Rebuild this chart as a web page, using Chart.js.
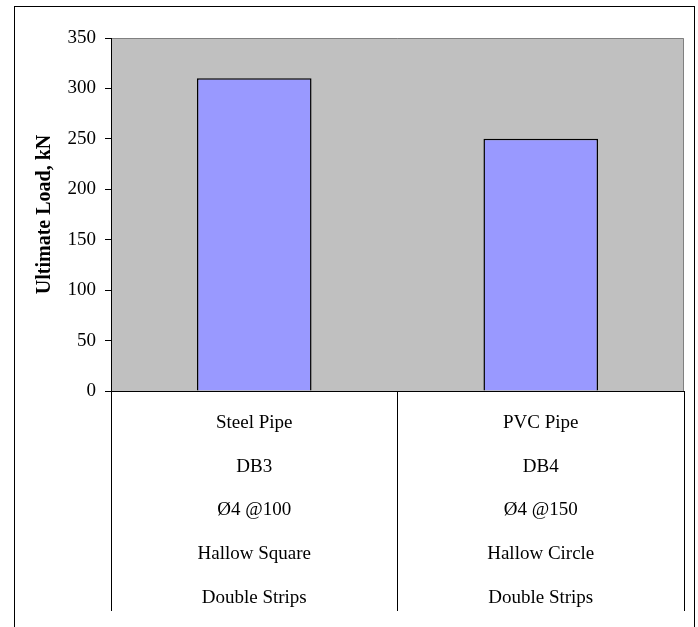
<!DOCTYPE html>
<html>
<head>
<meta charset="utf-8">
<script src="https://cdn.jsdelivr.net/npm/chart.js@4/dist/chart.umd.min.js"></script>
<style>
  html, body { margin: 0; padding: 0; background: #fff; }
  body { width: 698px; height: 627px; overflow: hidden; position: relative; }
  #frame { position: absolute; left: 14px; top: 6px; width: 679px; height: 660px; border: 1px solid #000; }
  #wrap { position: absolute; left: 0; top: 0; width: 698px; height: 627px; }
</style>
</head>
<body>
<div id="frame"></div>
<div id="wrap"><canvas id="chart" width="698" height="627"></canvas></div>
<script>
// Specimen descriptions, one line per row of the category table
const categories = [
  ["Steel Pipe", "DB3", "Ø4 @100", "Hallow Square", "Double Strips"],
  ["PVC Pipe", "DB4", "Ø4 @150", "Hallow Circle", "Double Strips"]
];
// Ultimate load of each beam, kN
const ultimateLoad = [310, 250];
// Value axis range
const yMin = 0;
const yMax = 350;
const yStep = 50;

const serif = "'Liberation Serif', 'Times New Roman', serif";

// Grey plot area with a thin grey frame on top and right
const plotBackground = {
  id: 'plotBackground',
  beforeDraw(chart) {
    const { ctx, chartArea: a } = chart;
    ctx.save();
    ctx.fillStyle = '#C0C0C0';
    ctx.fillRect(a.left, a.top, a.right - a.left, a.bottom - a.top);
    ctx.strokeStyle = '#808080';
    ctx.lineWidth = 1;
    ctx.beginPath();
    ctx.moveTo(a.left, a.top + 0.5);
    ctx.lineTo(a.right - 0.5, a.top + 0.5);
    ctx.lineTo(a.right - 0.5, a.bottom);
    ctx.stroke();
    ctx.restore();
  }
};

new Chart(document.getElementById('chart'), {
  type: 'bar',
  data: {
    labels: categories,
    datasets: [{
      data: ultimateLoad,
      backgroundColor: '#9999FF',
      borderColor: '#000000',
      borderWidth: 1.5,
      barPercentage: 0.4,
      categoryPercentage: 1.0
    }]
  },
  options: {
    responsive: false,
    animation: false,
    layout: { padding: { left: 33, right: 14, top: 38, bottom: 7 } },
    plugins: {
      legend: { display: false },
      tooltip: { enabled: false }
    },
    scales: {
      x: {
        offset: true,
        // category table below the plot: 5 text rows, separators reach down to the bottom
        afterFit(scale) { scale.height = 229; },
        grid: {
          offset: true,
          drawOnChartArea: false,
          drawTicks: true,
          tickLength: 220,
          color: '#000000',
          lineWidth: 1
        },
        border: { color: '#000000', width: 1 },
        ticks: {
          color: '#000000',
          padding: -210,
          maxRotation: 0,
          minRotation: 0,
          autoSkip: false,
          font: { family: serif, size: 19, lineHeight: 2.3 }
        }
      },
      y: {
        min: yMin,
        max: yMax,
        afterFit(scale) { scale.width = 111 - 33; },
        grid: {
          drawOnChartArea: false,
          drawTicks: true,
          tickLength: 6,
          color: '#000000'
        },
        border: { color: '#000000', width: 1 },
        ticks: {
          stepSize: yStep,
          color: '#000000',
          padding: 9,
          font: { family: serif, size: 19 }
        },
        title: {
          display: true,
          text: 'Ultimate Load, kN',
          color: '#000000',
          padding: 0,
          font: { family: serif, size: 20, weight: 'bold', lineHeight: 1.2 }
        }
      }
    }
  },
  plugins: [plotBackground]
});
</script>
</body>
</html>
